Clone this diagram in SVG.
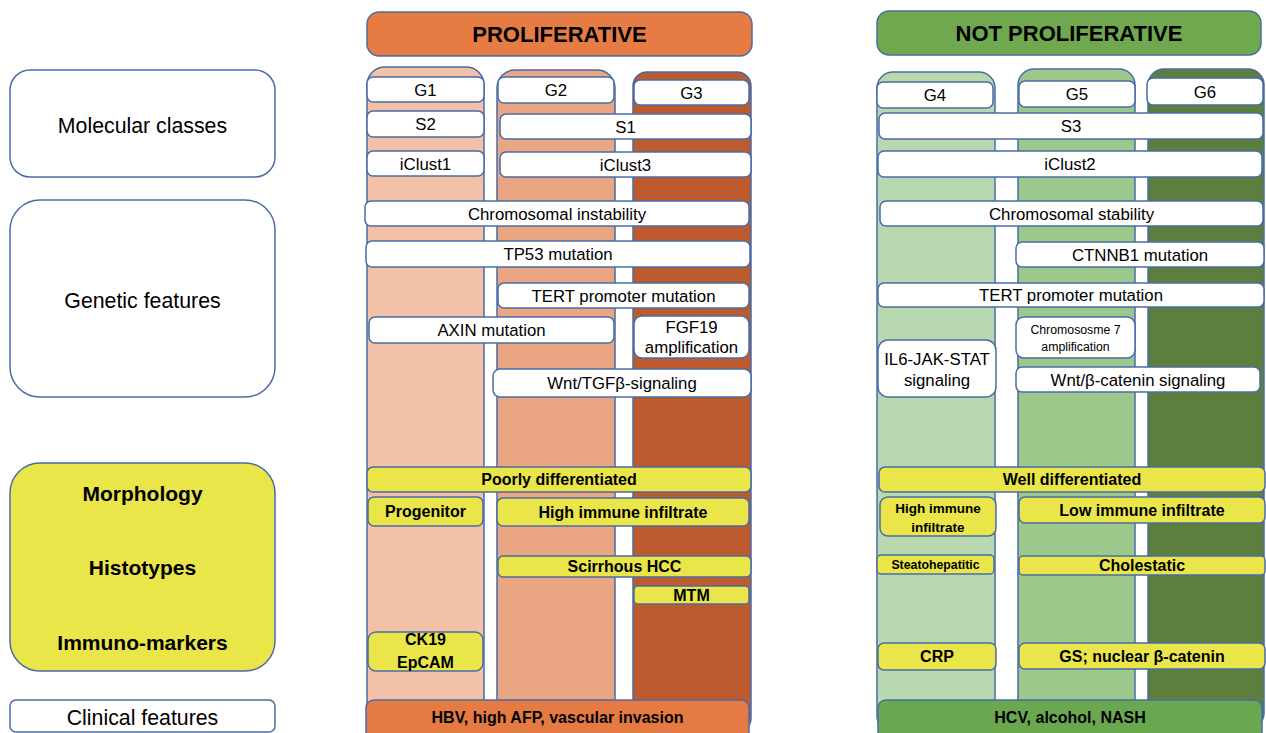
<svg xmlns="http://www.w3.org/2000/svg" width="1266" height="733" viewBox="0 0 1266 733">
<style>
.box{fill:#fff;stroke:#4A6CA6;stroke-width:1.5}
.yb{fill:#EAE64A;stroke:#4A6CA6;stroke-width:1.5}
.col{stroke:#4A6CA6;stroke-width:1.5}
.t{font-family:"Liberation Sans",Arial,sans-serif;font-size:16.8px;text-anchor:middle;fill:#000}
.b{font-weight:bold;font-size:16px}
.lab{font-size:21.3px}
.labb{font-size:21px;font-weight:bold}
.hd{font-size:22px;font-weight:bold}
.s12{font-size:12.3px}
</style>
<rect width="1266" height="733" fill="#fff"/>
<g id="connectors"/>
<!-- left labels -->
<g id="lbl-molecular"><rect class="box" x="10" y="70" width="265" height="107" rx="20"/><text class="t lab" x="142.5" y="132.5">Molecular classes</text></g>
<g id="lbl-genetic"><rect class="box" x="10" y="200" width="265" height="197" rx="30"/><text class="t lab" x="142.5" y="307.5">Genetic features</text></g>
<g id="lbl-morph"><rect class="yb" x="10" y="463" width="265" height="208" rx="30"/>
<text class="t labb" x="142.5" y="501">Morphology</text>
<text class="t labb" x="142.5" y="575">Histotypes</text>
<text class="t labb" x="142.5" y="650">Immuno-markers</text></g>
<g id="lbl-clinical"><rect class="box" x="10" y="700" width="265" height="32" rx="6"/><text class="t lab" x="142.5" y="724.5">Clinical features</text></g>
<!-- headers -->
<g id="hdr-prolif"><rect x="367" y="12" width="385" height="44" rx="12" fill="#E67C43" stroke="#4A6CA6" stroke-width="1.5"/><text class="t hd" x="559.5" y="42">PROLIFERATIVE</text></g>
<g id="hdr-notprolif"><rect x="877" y="11" width="384" height="44" rx="12" fill="#6FA84F" stroke="#4A6CA6" stroke-width="1.5"/><text class="t hd" x="1069" y="41">NOT PROLIFERATIVE</text></g>
<!-- columns -->
<g id="col-G1"><rect class="col" x="367" y="67" width="117" height="660" rx="18" fill="#F3C1A8"/></g>
<g id="col-G2"><rect class="col" x="497" y="70" width="118" height="660" rx="18" fill="#EAA682"/></g>
<g id="col-G3"><rect class="col" x="633" y="72" width="118" height="660" rx="14" fill="#BD5B2E"/></g>
<g id="col-G4"><rect class="col" x="877" y="72" width="118" height="660" rx="16" fill="#B8D8AF"/></g>
<g id="col-G5"><rect class="col" x="1018" y="69" width="117" height="660" rx="16" fill="#9DC88B"/></g>
<g id="col-G6"><rect class="col" x="1148" y="69" width="116" height="660" rx="16" fill="#5C7F3E"/></g>
<!-- molecular boxes -->
<g id="n-G1"><rect class="box" x="367" y="77" width="117" height="25" rx="6"/><text class="t" x="425.5" y="95.5">G1</text></g>
<g id="n-G2"><rect class="box" x="498" y="77" width="116" height="26" rx="6"/><text class="t" x="556" y="96">G2</text></g>
<g id="n-G3"><rect class="box" x="634" y="80" width="115" height="25" rx="6"/><text class="t" x="691.5" y="98.5">G3</text></g>
<g id="n-S2"><rect class="box" x="367" y="111" width="117" height="26" rx="6"/><text class="t" x="425.5" y="130">S2</text></g>
<g id="n-S1"><rect class="box" x="500" y="114" width="251" height="25" rx="6"/><text class="t" x="625.5" y="132.5">S1</text></g>
<g id="n-iClust1"><rect class="box" x="367" y="151" width="117" height="25" rx="6"/><text class="t" x="425.5" y="169.5">iClust1</text></g>
<g id="n-iClust3"><rect class="box" x="500" y="152" width="251" height="25" rx="6"/><text class="t" x="625.5" y="170.5">iClust3</text></g>
<g id="n-G4"><rect class="box" x="877" y="82" width="116" height="26" rx="6"/><text class="t" x="935" y="101">G4</text></g>
<g id="n-G5"><rect class="box" x="1019" y="81" width="116" height="26" rx="6"/><text class="t" x="1077" y="100">G5</text></g>
<g id="n-G6"><rect class="box" x="1147" y="78" width="116" height="27" rx="6"/><text class="t" x="1205" y="97.5">G6</text></g>
<g id="n-S3"><rect class="box" x="879" y="113" width="384" height="26" rx="6"/><text class="t" x="1071" y="132">S3</text></g>
<g id="n-iClust2"><rect class="box" x="878" y="151" width="384" height="26" rx="6"/><text class="t" x="1070" y="170">iClust2</text></g>
<!-- genetic boxes -->
<g id="n-cin"><rect class="box" x="365" y="201" width="384" height="25" rx="6"/><text class="t" x="557" y="219.5">Chromosomal instability</text></g>
<g id="n-tp53"><rect class="box" x="366" y="241" width="384" height="26" rx="6"/><text class="t" x="558" y="260">TP53 mutation</text></g>
<g id="n-tert-p"><rect class="box" x="498" y="283" width="251" height="25" rx="6"/><text class="t" x="623.5" y="301.5">TERT promoter mutation</text></g>
<g id="n-axin"><rect class="box" x="369" y="317" width="245" height="26" rx="6"/><text class="t" x="491.5" y="336">AXIN mutation</text></g>
<g id="n-fgf19"><rect class="box" x="634" y="316" width="115" height="42" rx="8"/><text class="t" x="691.5" y="333">FGF19</text><text class="t" x="691.5" y="353">amplification</text></g>
<g id="n-wnt-tgf"><rect class="box" x="493" y="369" width="258" height="28" rx="7"/><text class="t" x="622" y="389">Wnt/TGFβ-signaling</text></g>
<g id="n-cs"><rect class="box" x="880" y="201" width="383" height="25" rx="6"/><text class="t" x="1071.5" y="219.5">Chromosomal stability</text></g>
<g id="n-ctnnb1"><rect class="box" x="1016" y="242" width="248" height="25" rx="6"/><text class="t" x="1140" y="260.5">CTNNB1 mutation</text></g>
<g id="n-tert-np"><rect class="box" x="878" y="283" width="386" height="24" rx="6"/><text class="t" x="1071" y="301">TERT promoter mutation</text></g>
<g id="n-chr7"><rect class="box" x="1016" y="317" width="119" height="41" rx="8"/><text class="t s12" x="1075.5" y="334">Chromososme 7</text><text class="t s12" x="1075.5" y="351">amplification</text></g>
<g id="n-il6"><rect class="box" x="878" y="340" width="118" height="57" rx="10"/><text class="t" x="937" y="365">IL6-JAK-STAT</text><text class="t" x="937" y="386">signaling</text></g>
<g id="n-wnt-bcat"><rect class="box" x="1016" y="367" width="244" height="25" rx="6"/><text class="t" x="1138" y="385.5">Wnt/β-catenin signaling</text></g>
<!-- morphology / histotype / markers -->
<g id="n-poorly"><rect class="yb" x="367" y="467" width="384" height="25" rx="6"/><text class="t b" x="559" y="485">Poorly differentiated</text></g>
<g id="n-progenitor"><rect class="yb" x="368" y="497" width="115" height="29" rx="6"/><text class="t b" x="425.5" y="517">Progenitor</text></g>
<g id="n-high-p"><rect class="yb" x="497" y="498" width="252" height="28" rx="6"/><text class="t b" x="623" y="517.5">High immune infiltrate</text></g>
<g id="n-scirrhous"><rect class="yb" x="498" y="556" width="253" height="21" rx="5"/><text class="t b" x="624.5" y="572">Scirrhous HCC</text></g>
<g id="n-mtm"><rect class="yb" x="634" y="586" width="115" height="18" rx="4"/><text class="t b" x="691.5" y="600.5">MTM</text></g>
<g id="n-well"><rect class="yb" x="879" y="467" width="386" height="25" rx="6"/><text class="t b" x="1072" y="485">Well differentiated</text></g>
<g id="n-high-np"><rect class="yb" x="880" y="497" width="116" height="39" rx="8"/><text class="t b" style="font-size:13.5px" x="938" y="513">High immune</text><text class="t b" style="font-size:13.5px" x="938" y="532">infiltrate</text></g>
<g id="n-low"><rect class="yb" x="1019" y="497" width="246" height="26" rx="6"/><text class="t b" x="1142" y="515.5">Low immune infiltrate</text></g>
<g id="n-steato"><rect class="yb" x="877" y="555" width="117" height="19" rx="4"/><text class="t b s12" x="935.5" y="569">Steatohepatitic</text></g>
<g id="n-cholestatic"><rect class="yb" x="1019" y="556" width="246" height="19" rx="4"/><text class="t b" x="1142" y="571">Cholestatic</text></g>
<g id="n-ck19"><rect class="yb" x="368" y="632" width="115" height="39" rx="8"/><text class="t b" x="425.5" y="644.5">CK19</text><text class="t b" x="425.5" y="667.5">EpCAM</text></g>
<g id="n-crp"><rect class="yb" x="878" y="643" width="118" height="27" rx="6"/><text class="t b" x="937" y="662">CRP</text></g>
<g id="n-gs"><rect class="yb" x="1019" y="643" width="246" height="26" rx="6"/><text class="t b" x="1142" y="661.5">GS; nuclear β-catenin</text></g>
<!-- clinical bars -->
<g id="n-clin-p"><rect x="366" y="700" width="383" height="45" rx="8" fill="#E57A42" stroke="#4A6CA6" stroke-width="1.5"/><text class="t b" x="557.5" y="722.5">HBV, high AFP, vascular invasion</text></g>
<g id="n-clin-np"><rect x="878" y="700" width="384" height="45" rx="8" fill="#6AA84F" stroke="#4A6CA6" stroke-width="1.5"/><text class="t b" x="1070" y="722.5">HCV, alcohol, NASH</text></g>
</svg>
